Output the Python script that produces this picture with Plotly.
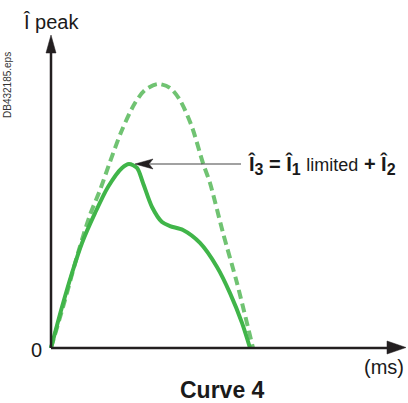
import plotly.graph_objects as go

# Data (time in arbitrary ms units, current in arbitrary units)
prospective_t = [0, 0.7, 1.35, 1.95, 2.45, 2.95, 3.55, 4.2, 4.7, 5.35, 5.95, 6.45, 7.05, 7.6, 7.95, 8.6, 9.3, 10.1]
prospective_i = [0, 1.82, 3.6, 5.04, 5.98, 7.05, 8.26, 9.28, 9.77, 10.0, 9.85, 9.39, 8.37, 7.0, 6.25, 4.36, 2.46, 0]

limited_t = [0, 0.55, 1.05, 1.55, 2.2, 2.85, 3.55, 3.9, 4.3, 4.6, 5.05, 5.55, 5.95, 6.6, 7.45, 8.3, 8.95, 9.55, 9.95]
limited_i = [0, 1.55, 2.84, 3.98, 5.11, 6.1, 6.82, 6.97, 6.82, 6.25, 5.34, 4.77, 4.62, 4.47, 3.98, 3.07, 2.08, 0.95, 0]

peak_t = 3.9
peak_i = 6.97

W, H = 408, 403
OX, OY = 51, 348      # origin pixel
SX, SY = 20.0, 26.4   # pixels per unit

x_range = [-OX / SX, (W - OX) / SX]
y_range = [-(H - OY) / SY, OY / SY]

def px(x):
    return (x - OX) / SX

def py(y):
    return (OY - y) / SY

AXIS = "#231f20"
FONT = "Liberation Sans, Arial, Helvetica, sans-serif"

fig = go.Figure()
fig.add_trace(go.Scatter(x=prospective_t, y=prospective_i, mode="lines",
                         line=dict(color="#70c372", width=4, dash="9px,5px", shape="spline", smoothing=0.8),
                         hoverinfo="skip", showlegend=False))
fig.add_trace(go.Scatter(x=limited_t, y=limited_i, mode="lines",
                         line=dict(color="#40b549", width=4, shape="spline", smoothing=0.8),
                         hoverinfo="skip", showlegend=False))

shapes = [
    # y axis
    dict(type="line", xref="x", yref="y", x0=0, y0=0, x1=0, y1=py(52), line=dict(color=AXIS, width=2.5)),
    dict(type="path", xref="x", yref="y",
         path=f"M {px(46)} {py(53)} L {px(51)} {py(35)} L {px(56)} {py(53)} Z",
         fillcolor=AXIS, line=dict(color=AXIS, width=0.5)),
    # x axis
    dict(type="line", xref="x", yref="y", x0=0, y0=0, x1=px(389), y1=0, line=dict(color=AXIS, width=2.5)),
    dict(type="path", xref="x", yref="y",
         path=f"M {px(387)} {py(341)} L {px(406)} {py(347.5)} L {px(387)} {py(354)} Z",
         fillcolor=AXIS, line=dict(color=AXIS, width=0.5)),
    # pointer arrow to the limited peak
    dict(type="line", xref="x", yref="y", x0=px(241), y0=peak_i, x1=px(150), y1=peak_i,
         line=dict(color="#444444", width=1.2)),
    dict(type="path", xref="x", yref="y",
         path=f"M {px(135)} {peak_i} L {px(153)} {peak_i + 5 / SY} L {px(149)} {peak_i} L {px(153)} {peak_i - 5 / SY} Z",
         fillcolor=AXIS, line=dict(color=AXIS, width=0.5)),
]

def P(xp, yp):
    return xp / W, 1 - yp / H

annotations = []
ax_, ay_ = P(51, 22)
annotations.append(dict(text="Î peak", x=ax_, y=ay_, xref="paper", yref="paper", showarrow=False,
                        font=dict(family=FONT, size=20, color="#1a1a1a"), xanchor="center", yanchor="middle"))
ax_, ay_ = P(7, 85)
annotations.append(dict(text="DB432185.eps", x=ax_, y=ay_, xref="paper", yref="paper", showarrow=False,
                        textangle=-90, font=dict(family=FONT, size=10, color="#333333"),
                        xanchor="center", yanchor="middle"))
ax_, ay_ = P(36, 350)
annotations.append(dict(text="0", x=ax_, y=ay_, xref="paper", yref="paper", showarrow=False,
                        font=dict(family=FONT, size=20, color="#1a1a1a"), xanchor="center", yanchor="middle"))
ax_, ay_ = P(384, 367)
annotations.append(dict(text="(ms)", x=ax_, y=ay_, xref="paper", yref="paper", showarrow=False,
                        font=dict(family=FONT, size=20, color="#1a1a1a"), xanchor="center", yanchor="middle"))
ax_, ay_ = P(223, 390)
annotations.append(dict(text="<b>Curve 4</b>", x=ax_, y=ay_, xref="paper", yref="paper", showarrow=False,
                        font=dict(family=FONT, size=23, color="#1a1a1a"), xanchor="center", yanchor="middle"))
ax_, ay_ = P(246, 165)
sub = "<sub><span style='font-size:16px'>{}</span></sub>"
annotations.append(dict(
    text=("<b>Î" + sub.format("3") + " = Î" + sub.format("1") + "</b>"
          " <span style='font-size:18px'>limited</span> <b>+ Î" + sub.format("2") + "</b>"),
    x=ax_, y=ay_, xref="paper", yref="paper", showarrow=False,
    font=dict(family=FONT, size=20, color="#1a1a1a"), xanchor="left", yanchor="middle"))

fig.update_layout(
    width=W, height=H,
    margin=dict(l=0, r=0, t=0, b=0),
    paper_bgcolor="white", plot_bgcolor="white",
    xaxis=dict(range=x_range, visible=False, fixedrange=True),
    yaxis=dict(range=y_range, visible=False, fixedrange=True),
    shapes=shapes, annotations=annotations,
    showlegend=False,
)

fig.write_html("out.html", config={"displayModeBar": False},
               post_script="document.body.style.margin='0';document.body.style.padding='0';document.body.style.overflow='hidden';")
